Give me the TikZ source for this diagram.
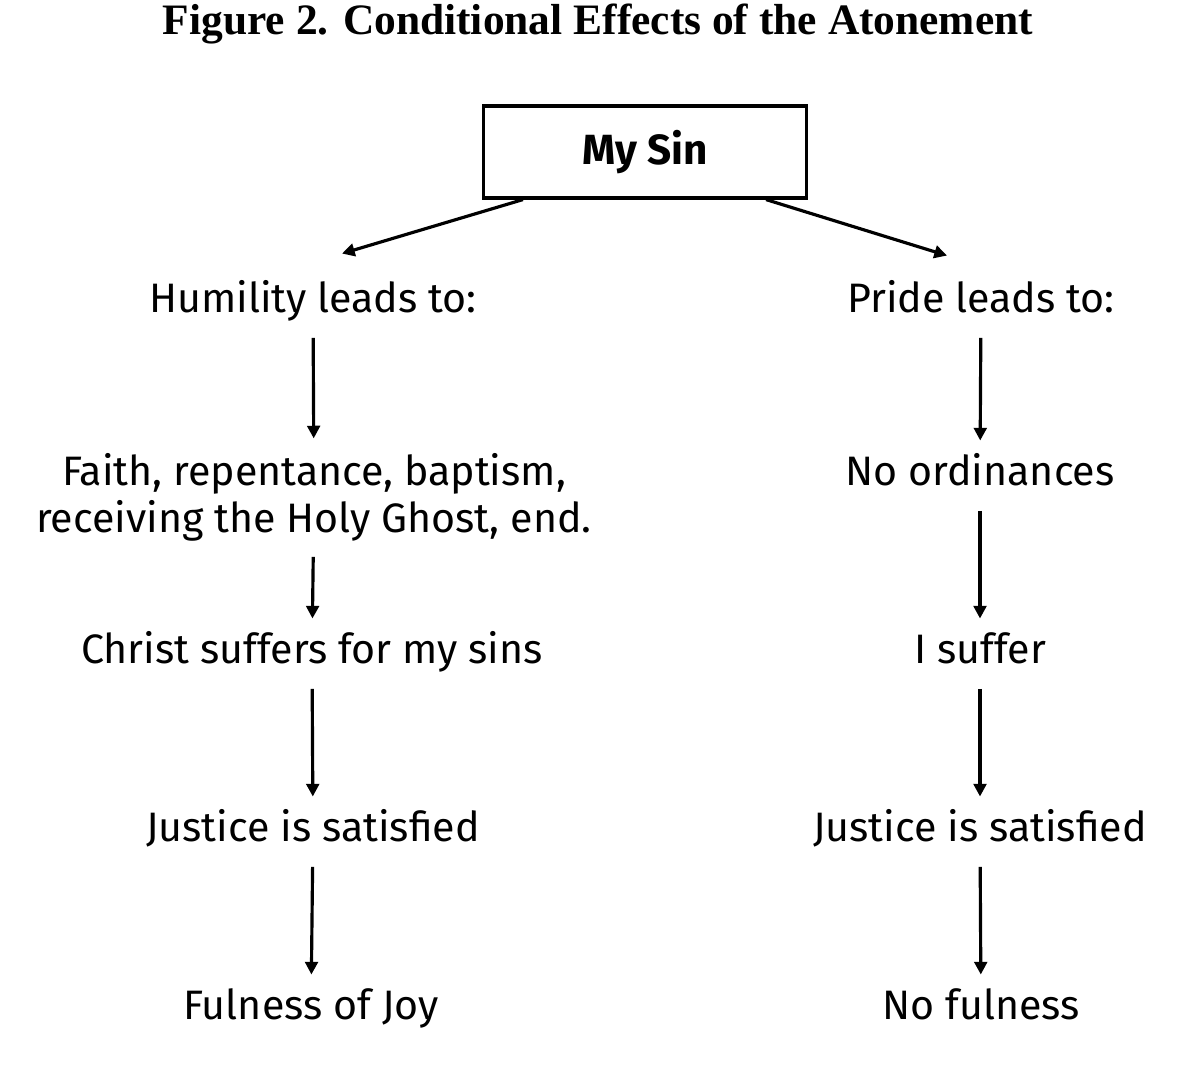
\documentclass[tikz,border=0pt]{standalone}
\usepackage{fontspec}
\setmainfont{Liberation Serif}
\setsansfont{Fira Sans}
\usetikzlibrary{arrows.meta}

\begin{document}
\begin{tikzpicture}[x=0.01cm, y=-0.01cm,
  stage/.style={font=\sffamily\fontsize{11.7}{13.3}\selectfont, align=center, inner sep=0pt, text height=8.5pt, text depth=2.7pt},
  lead/.style={-{Triangle[length=3.6pt, width=3.6pt]}, line width=0.9pt},
  down/.style={lead, shorten <=4.4pt, shorten >=4pt}]
  \useasboundingbox (0,0) rectangle (1200,1077);
  % Title
  \node[font=\bfseries\fontsize{12.35}{15}\selectfont] (title) at (598,24) {Figure 2. Conditional Effects of the Atonement};
  % Top box
  \node[draw, line width=0.9pt, minimum width=3.22cm, minimum height=0.92cm, font=\sffamily\bfseries\fontsize{12}{14}\selectfont] (sin) at (645,152) {My Sin};
  % Humility branch
  \node[stage] (hum) at (313,302) {Humility leads to:};
  \node[stage, text height=, text depth=] (faith) at (314,497) {Faith, repentance, baptism,\\receiving the Holy Ghost, end.};
  \node[stage] (christ) at (312,653) {Christ suffers for my sins};
  \node[stage] (justl) at (313,831) {Justice is satisfied};
  \node[stage] (joy) at (311,1009) {Fulness of Joy};
  % Pride branch
  \node[stage] (pride) at (981,302) {Pride leads to:};
  \node[stage] (noord) at (980,475) {No ordinances};
  \node[stage] (isuf) at (980,653) {I suffer};
  \node[stage] (justr) at (980,831) {Justice is satisfied};
  \node[stage] (nofull) at (981,1009) {No fulness};
  % Arrows
  \draw[lead] ([xshift=-1.22cm]sin.south) -- ([shift={(0.29cm,0.28cm)}]hum.north);
  \draw[lead] ([xshift=1.21cm]sin.south) -- ([shift={(-0.34cm,0.26cm)}]pride.north);
  \draw[down] (hum) -- (faith);
  \draw[down] (faith) -- (christ);
  \draw[down] (christ) -- (justl);
  \draw[down] (justl) -- (joy);
  \draw[down] (pride) -- (noord);
  \draw[down] (noord) -- (isuf);
  \draw[down] (isuf) -- (justr);
  \draw[down] (justr) -- (nofull);
\end{tikzpicture}
\end{document}
